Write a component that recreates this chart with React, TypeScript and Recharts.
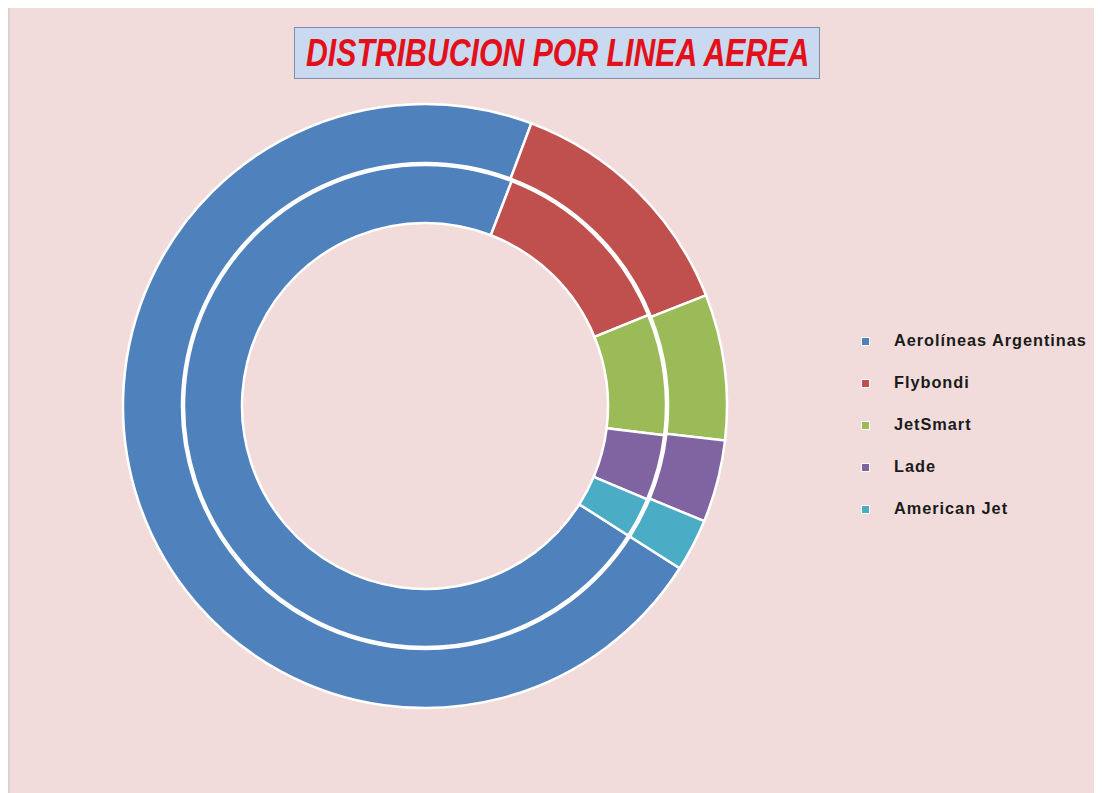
import React from 'react';
import { PieChart, Pie, Cell, Legend } from 'recharts';

// airlines, clockwise order as drawn
const airlines = ['Aerolíneas Argentinas', 'Flybondi', 'JetSmart', 'Lade', 'American Jet'];
// share (%) per ring
const outerShare = [71.7, 13.3, 7.8, 4.4, 2.8];
const innerShare = [71.9, 13.0, 8.1, 4.4, 2.7];

const COLORS = ['#4F81BD', '#C0504D', '#9BBB59', '#8064A2', '#4BACC6'];

const outerData = airlines.map((name, i) => ({ name, value: outerShare[i] }));
const innerData = airlines.map((name, i) => ({ name, value: innerShare[i] }));

// Excel-style: first slice begins ~122.5deg clockwise from 12 o'clock
const START = 90 - 122.5;

const narrow = '"Liberation Sans", Arial, sans-serif';

// legend drawn from our own arrays (one entry per airline)
function LegendBox() {
  return (
    <div style={{ fontFamily: narrow }}>
      {airlines.map((name, i) => (
        <div key={name} style={{ display: 'flex', alignItems: 'center', height: 42 }}>
          <span style={{ display: 'inline-block', width: 7, height: 7, background: COLORS[i], marginRight: 24, border: '1.5px solid #fff' }} />
          <span style={{
            display: 'inline-block', fontSize: 17, fontWeight: 'bold', color: '#1a1a1a', letterSpacing: 1,
            whiteSpace: 'nowrap', transform: 'scaleX(0.96)', transformOrigin: 'left center',
          }}>{name}</span>
        </div>
      ))}
    </div>
  );
}

export default function App() {
  return (
    <div style={{ position: 'relative', width: 1094, height: 785, background: '#F1DCDB', borderLeft: '2px solid #dcd2d0', boxSizing: 'border-box' }}>
      <div style={{
        position: 'absolute', left: 284, top: 19, width: 526, height: 52, boxSizing: 'border-box',
        background: '#C9DAF0', border: '1.5px solid #7F8FA9', overflow: 'visible', zIndex: 2,
      }}>
        <span style={{
          position: 'absolute', left: 11, top: 3, whiteSpace: 'nowrap', display: 'inline-block',
          fontFamily: narrow, fontWeight: 'bold', fontStyle: 'italic', fontSize: 39, lineHeight: '44px',
          color: '#E3101A', transform: 'scaleX(0.775)', transformOrigin: 'left center',
        }}>
          DISTRIBUCION POR LINEA AEREA
        </span>
      </div>
      <PieChart width={1092} height={785}>
        <Pie
          data={innerData}
          dataKey="value"
          nameKey="name"
          cx={410}
          cy={393}
          innerRadius={183}
          outerRadius={241}
          startAngle={START}
          endAngle={START - 360}
          stroke="#fff"
          strokeWidth={2.5}
          legendType="none"
          isAnimationActive={false}
        >
          {innerData.map((d, i) => (
            <Cell key={`in-${i}`} fill={COLORS[i]} />
          ))}
        </Pie>
        <Pie
          data={outerData}
          dataKey="value"
          nameKey="name"
          cx={410}
          cy={393}
          innerRadius={243}
          outerRadius={302}
          startAngle={START}
          endAngle={START - 360}
          stroke="#fff"
          strokeWidth={2.5}
          legendType="none"
          isAnimationActive={false}
        >
          {outerData.map((d, i) => (
            <Cell key={`out-${i}`} fill={COLORS[i]} />
          ))}
        </Pie>
        <Legend
          content={<LegendBox />}
          wrapperStyle={{ position: 'absolute', left: 851, top: 312, width: 240 }}
        />
      </PieChart>
    </div>
  );
}
